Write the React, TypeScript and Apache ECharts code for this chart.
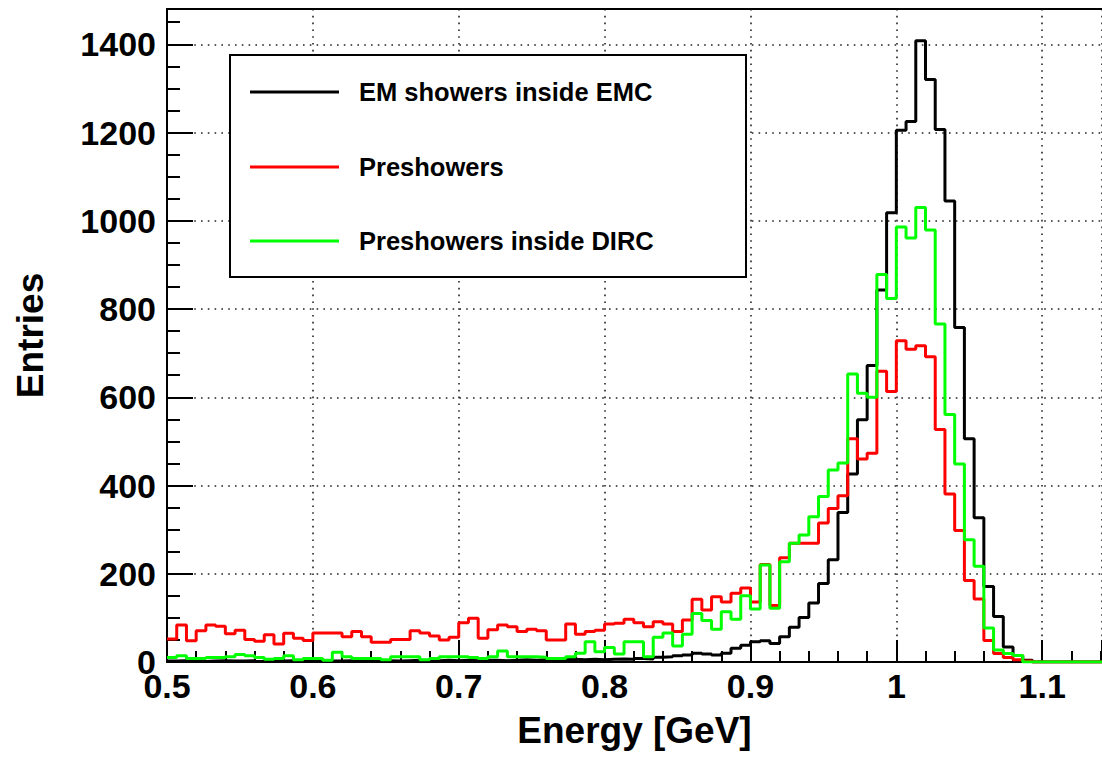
import { useEffect, useRef } from 'react';
import * as echarts from 'echarts';

// histogram binning (bin edges start at 0.5 GeV, 150 bins per GeV)
const binLow = 0.5;
const binWidth = 1 / 150;

const seriesNames = ['EM showers inside EMC', 'Preshowers', 'Preshowers inside DIRC'];
const seriesColors = ['#000000', '#ff0000', '#00ff00'];

// entries per bin
const emcCounts = [
    2, 3, 2, 1, 2, 3, 2, 2, 3, 1, 2, 2, 3, 2, 2, 3, 2, 2, 3, 2,
    3, 2, 3, 2, 3, 4, 3, 3, 4, 3, 4, 3, 4, 4, 3, 4, 5, 4, 5, 4,
    5, 6, 5, 6, 5, 6, 7, 6, 8, 7, 11, 12, 14, 16, 20, 18, 16, 20, 31, 38,
    46, 48, 42, 57, 79, 101, 134, 178, 232, 339, 426, 549, 672, 843, 1018, 1205, 1225, 1408, 1320, 1207,
    1045, 758, 506, 327, 171, 103, 34, 15, 4, 0, 0, 0, 0, 0, 0, 0, 0,
];
const preshowerCounts = [
    52, 84, 48, 71, 84, 81, 64, 72, 51, 47, 62, 41, 65, 54, 49, 66, 66, 66, 57, 69,
    57, 45, 45, 51, 51, 71, 66, 59, 50, 56, 89, 99, 54, 73, 84, 80, 69, 74, 71, 50,
    50, 86, 63, 69, 72, 86, 88, 97, 89, 80, 91, 86, 69, 95, 142, 118, 148, 136, 156, 168,
    136, 221, 128, 236, 269, 269, 269, 315, 348, 377, 506, 460, 473, 659, 613, 728, 709, 717, 692, 527,
    381, 298, 185, 143, 49, 19, 10, 5, 2, 0, 0, 0, 0, 0, 0, 0, 0,
];
const dircCounts = [
    10, 14, 8, 8, 10, 10, 12, 17, 14, 10, 6, 8, 14, 5, 8, 8, 4, 22, 12, 8,
    8, 8, 5, 12, 12, 12, 5, 8, 12, 12, 12, 10, 8, 12, 25, 12, 12, 12, 11, 8,
    8, 12, 20, 46, 23, 33, 18, 46, 46, 12, 56, 66, 36, 63, 110, 94, 74, 114, 97, 150,
    120, 220, 122, 227, 269, 288, 329, 375, 435, 451, 653, 609, 600, 878, 824, 986, 961, 1030, 979, 766,
    561, 449, 277, 217, 77, 27, 19, 15, 0, 0, 0, 0, 0, 0, 0, 0, 0,
];

const xMin = 0.5;
const xMax = 1.141;
const yMax = 1480;

function toSteps(counts: number[]) {
    const pts = counts.map((v, i) => [binLow + i * binWidth, v]);
    pts.push([binLow + counts.length * binWidth, counts[counts.length - 1]]);
    return pts;
}

const font = "'Liberation Sans', Arial, sans-serif";

export default function App() {
    const chartRef = useRef<HTMLDivElement>(null);

    useEffect(() => {
        if (!chartRef.current) return;
        const chart = echarts.init(chartRef.current, null, { renderer: 'svg' });

        const gridDots = { color: '#222', width: 1.6, type: [1.6, 5.2] as number[] };
        const labelStyle = { fontFamily: font, fontWeight: 'bold' as const, fontSize: 34, color: '#000' };
        const titleStyle = { fontFamily: font, fontWeight: 'bold' as const, fontSize: 37, color: '#000' };

        const legendRows = [92, 167, 241];

        const option: echarts.EChartsOption = {
            animation: false,
            backgroundColor: '#ffffff',
            grid: { left: 167, right: 0, top: 9, bottom: 100 },
            xAxis: [
                {
                    type: 'value',
                    min: xMin,
                    max: xMax,
                    interval: 0.1,
                    name: 'Energy [GeV]',
                    nameLocation: 'middle',
                    nameGap: 50,
                    nameTextStyle: titleStyle,
                    axisLine: { show: true, lineStyle: { color: '#000', width: 2 } },
                    axisTick: { show: true, inside: true, length: 22, lineStyle: { color: '#000', width: 2 } },
                    minorTick: { show: true, splitNumber: 5, length: 11, lineStyle: { color: '#000', width: 2 } },
                    axisLabel: { ...labelStyle, margin: 7, showMaxLabel: false },
                    splitLine: { show: true, lineStyle: gridDots },
                },
                {
                    // top edge of the frame
                    type: 'value',
                    position: 'top',
                    min: xMin,
                    max: xMax,
                    axisLine: { show: true, lineStyle: { color: '#000', width: 2 } },
                    axisTick: { show: false },
                    axisLabel: { show: false },
                    splitLine: { show: false },
                },
            ],
            yAxis: {
                type: 'value',
                min: 0,
                max: yMax,
                interval: 200,
                name: 'Entries',
                nameLocation: 'middle',
                nameGap: 118,
                nameTextStyle: titleStyle,
                axisLine: { show: true, lineStyle: { color: '#000', width: 2 } },
                axisTick: { show: true, inside: true, length: 26, lineStyle: { color: '#000', width: 2 } },
                minorTick: { show: true, splitNumber: 4, length: 13, lineStyle: { color: '#000', width: 2 } },
                axisLabel: {
                    ...labelStyle,
                    margin: 11,
                    showMaxLabel: false,
                    formatter: (v: number) => String(v),
                },
                splitLine: { show: true, lineStyle: gridDots },
            },
            series: [emcCounts, preshowerCounts, dircCounts].map((counts, k) => ({
                name: seriesNames[k],
                type: 'line' as const,
                step: 'end' as const,
                data: toSteps(counts),
                symbol: 'none',
                clip: true,
                lineStyle: { color: seriesColors[k], width: 3 },
                itemStyle: { color: seriesColors[k] },
                z: 3 + k,
            })),
            // ROOT-style legend box
            graphic: [
                {
                    type: 'rect',
                    z: 100,
                    shape: { x: 230, y: 55, width: 516, height: 222 },
                    style: { fill: '#ffffff', stroke: '#000', lineWidth: 2 },
                },
                ...seriesNames.flatMap((name, k) => [
                    {
                        type: 'line' as const,
                        z: 101,
                        shape: { x1: 250, y1: legendRows[k], x2: 339, y2: legendRows[k] },
                        style: { stroke: seriesColors[k], lineWidth: 3 },
                    },
                    {
                        type: 'text' as const,
                        z: 101,
                        style: {
                            text: name,
                            x: 359,
                            y: legendRows[k],
                            font: `bold 25.5px ${font}`,
                            fill: '#000',
                            textAlign: 'left',
                            textVerticalAlign: 'middle',
                            align: 'left',
                            verticalAlign: 'middle',
                        } as any,
                    },
                ]),
            ],
        };

        chart.setOption(option);
        return () => chart.dispose();
    }, []);

    return (
        <div
            ref={chartRef}
            style={{ position: 'absolute', left: 0, top: 0, width: 1102, height: 762 }}
        />
    );
}
